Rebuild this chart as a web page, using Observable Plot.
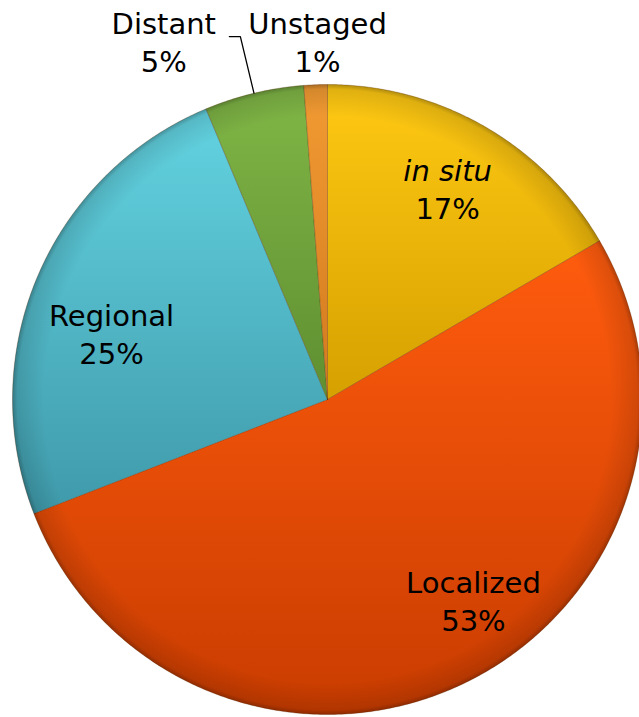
<!DOCTYPE html>
<html><head><meta charset="utf-8">
<script src="https://cdn.jsdelivr.net/npm/d3@7"></script>
<script src="https://cdn.jsdelivr.net/npm/@observablehq/plot@0.6"></script>
<style>
html,body{margin:0;padding:0;background:#fff;}
g[aria-label="shadow"] path{filter:blur(4px);}
</style></head><body><div id="chart"></div>
<script>
// ---- data ----
const categories = ["in situ", "Localized", "Regional", "Distant", "Unstaged"];
const values = [16.6, 52.5, 24.6, 5.1, 1.2];
const pctLabels = ["17%", "53%", "25%", "5%", "1%"];
const italicFlags = [true, false, false, false, false];
// ---- style / layout ----
const topColors = ["#FFC913", "#FF5C0E", "#63D3E1", "#80B646", "#F29B33"];
const bottomColors = ["#D6A000", "#C93C00", "#3F9AAA", "#5F8F31", "#D27A1E"];
const labelAngles = [29.9, 144.3, 286.5, 335.3, 358.4];
const labelRadii = [0.765, 0.794, 0.715, 1.244, 1.13];

const W = 639, H = 717, cx = 327, cy = 399, R = 315;
const total = d3.sum(values);
let acc = 0;
const slices = values.map((v, i) => {
  const a0 = acc / total * 360; acc += v; const a1 = acc / total * 360;
  return {i, a0, a1, mid: (a0 + a1) / 2};
});
const rad = d => d * Math.PI / 180;
const polar = (a, r) => ({u: r * Math.sin(rad(a)), v: r * Math.cos(rad(a))});
const slicePts = slices.flatMap(s => {
  const n = Math.max(2, Math.ceil((s.a1 - s.a0) / 0.5));
  const pts = [{slice: s.i, u: 0, v: 0}];
  for (let k = 0; k <= n; k++) pts.push({slice: s.i, ...polar(s.a0 + (s.a1 - s.a0) * k / n, 1)});
  pts.push({slice: s.i, u: 0, v: 0});
  return pts;
});
const diskPts = d3.range(0, 721).map(k => polar(k / 2, 1));

const labelData = slices.map(s => ({
  ...polar(labelAngles[s.i], labelRadii[s.i]),
  name: categories[s.i], pct: pctLabels[s.i], italic: italicFlags[s.i]
}));
const dm = slices[3].mid;
const elbow = polar(dm, 1.185);
const leader = [polar(dm, 1.0), elbow, {u: elbow.u - 0.035, v: elbow.v}];

const defs = () => {
  const d = d3.create("svg:defs");
  slices.forEach(s => {
    const g = d.append("linearGradient").attr("id", "g" + s.i)
      .attr("x1", 0).attr("y1", 0).attr("x2", 0).attr("y2", 1);
    g.append("stop").attr("offset", "0%").attr("stop-color", topColors[s.i]);
    g.append("stop").attr("offset", "100%").attr("stop-color", bottomColors[s.i]);
  });
  const rg = d.append("radialGradient").attr("id", "rim");
  rg.append("stop").attr("offset", "0.9").attr("stop-color", "#000").attr("stop-opacity", 0);
  rg.append("stop").attr("offset", "0.985").attr("stop-color", "#000").attr("stop-opacity", 0.12);
  rg.append("stop").attr("offset", "1").attr("stop-color", "#000").attr("stop-opacity", 0.3);
  return d.node();
};

const font = "DejaVu Sans, Verdana, sans-serif";
const fs = 29, off = 19;
const chart = Plot.plot({
  width: W, height: H, margin: 0,
  x: {domain: [-cx / R, (W - cx) / R], axis: null},
  y: {domain: [(cy - H) / R, cy / R], axis: null},
  marks: [
    defs,
    Plot.line(diskPts, {x: "u", y: "v", fill: "rgba(0,0,0,0.35)", stroke: "none", dx: 3, dy: 4, ariaLabel: "shadow"}),
    ...slices.map(s => Plot.line(slicePts.filter(p => p.slice === s.i), {
      x: "u", y: "v", fill: `url(#g${s.i})`, stroke: "rgba(90,40,0,0.35)", strokeWidth: 0.8
    })),
    Plot.line(diskPts, {x: "u", y: "v", fill: "url(#rim)", stroke: "none"}),
    Plot.line(leader, {x: "u", y: "v", stroke: "#000", strokeWidth: 1.3}),
    Plot.text(labelData.filter(d => !d.italic), {x: "u", y: "v", text: "name", dy: -off, fontSize: fs, fontFamily: font, fill: "#000"}),
    Plot.text(labelData.filter(d => d.italic), {x: "u", y: "v", text: "name", dy: -off, fontSize: fs, fontFamily: font, fontStyle: "italic", fill: "#000"}),
    Plot.text(labelData, {x: "u", y: "v", text: "pct", dy: off, fontSize: fs, fontFamily: font, fill: "#000"})
  ]
});
document.getElementById("chart").appendChild(chart);
</script></body></html>
